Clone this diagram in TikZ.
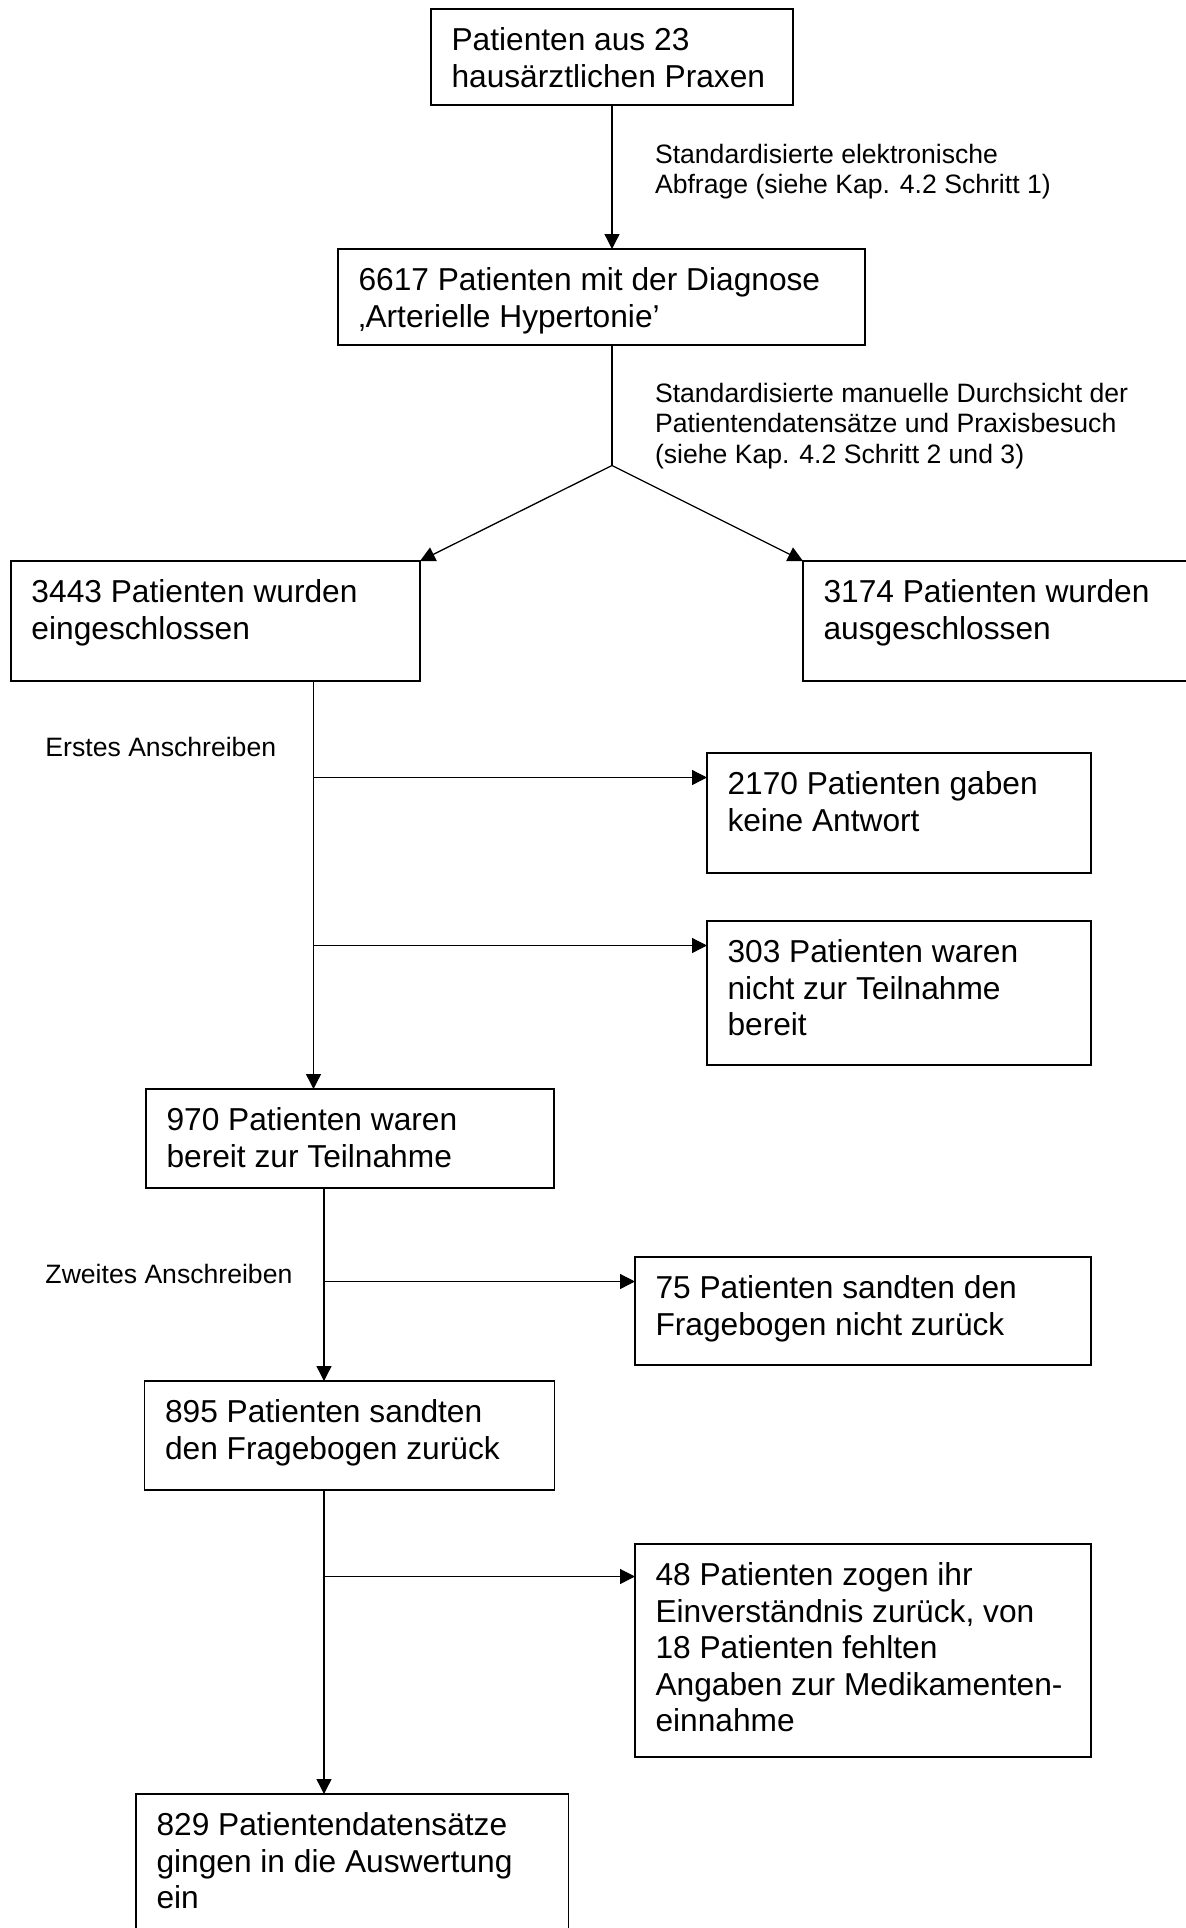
\documentclass[tikz,border=0pt]{standalone}
\usepackage{fontspec}
\setmainfont{Liberation Sans}
\usetikzlibrary{arrows.meta}
\newcommand{\tlines}[2][18.3pt]{\vtop{\let\\\cr\baselineskip=#1\lineskip=0pt\lineskiplimit=-20pt\halign{##\hfil\cr#2\crcr}}}
\begin{document}
\begin{tikzpicture}[x=0.5pt,y=-0.5pt,
  box/.style={draw, line width=0.75pt, anchor=north west, inner sep=0pt, outer sep=0pt},
  txt/.style={anchor=base west, inner sep=0pt, outer sep=0pt, font=\fontsize{15.85pt}{18.3pt}\selectfont},
  lab/.style={anchor=base west, inner sep=0pt, outer sep=0pt, font=\fontsize{13.3pt}{15.25pt}\selectfont},
  ln/.style={line width=0.65pt},
  arr/.style={line width=0.65pt, -{Triangle[length=7.5pt,width=7.5pt]}}]
\useasboundingbox (0,0) rectangle (1186,1928);
\fill[white] (0,0) rectangle (1186,1928);
\clip (0,0) rectangle (1186,1928);
% boxes
\node[box, minimum width=181pt, minimum height=48pt] (b1) at (431,9) {};
\node[box, minimum width=263.5pt, minimum height=48pt] (b2) at (338,249) {};
\node[box, minimum width=204.5pt, minimum height=60pt] (b3) at (11,561) {};
\node[box, minimum width=200pt, minimum height=60pt] (b4) at (803,561) {};
\node[box, minimum width=192pt, minimum height=60pt] (b5) at (707,753) {};
\node[box, minimum width=192pt, minimum height=72pt] (b6) at (707,921) {};
\node[box, minimum width=204pt, minimum height=49.5pt] (b7) at (146,1089) {};
\node[box, minimum width=228pt, minimum height=54pt] (b8) at (635,1257) {};
\node[box, minimum width=205pt, minimum height=54.5pt] (b9) at (144.5,1381) {};
\node[box, minimum width=228pt, minimum height=106.5pt] (b10) at (635,1544) {};
\node[box, minimum width=216.25pt, minimum height=80pt] (b11) at (136,1794) {};
% box texts
\node[txt] (t1) at (451.5,50.5) {\tlines{Patienten aus 23\\hausärztlichen Praxen}};
\node[txt] (t2) at (358.5,290.5) {\tlines{6617 Patienten mit der Diagnose\\‚Arterielle Hypertonie’}};
\node[txt] (t3) at (31.5,602.5) {\tlines{3443 Patienten wurden\\eingeschlossen}};
\node[txt] (t4) at (823.5,602.5) {\tlines{3174 Patienten wurden\\ausgeschlossen}};
\node[txt] (t5) at (727.5,794.5) {\tlines{2170 Patienten gaben\\keine Antwort}};
\node[txt] (t6) at (727.5,962.5) {\tlines{303 Patienten waren\\nicht zur Teilnahme\\bereit}};
\node[txt] (t7) at (166.5,1130.5) {\tlines{970 Patienten waren\\bereit zur Teilnahme}};
\node[txt] (t8) at (655.5,1298.5) {\tlines{75 Patienten sandten den\\Fragebogen nicht zurück}};
\node[txt] (t9) at (165,1422.5) {\tlines{895 Patienten sandten\\den Fragebogen zurück}};
\node[txt] (t10) at (655.5,1585.5) {\tlines{48 Patienten zogen ihr\\Einverständnis zurück, von\\18 Patienten fehlten\\Angaben zur Medikamenten-\\einnahme}};
\node[txt] (t11) at (156.5,1835.5) {\tlines{829 Patientendatensätze\\gingen in die Auswertung\\ein}};
% labels
\node[lab] (l1) at (655,163) {\tlines[15.25pt]{Standardisierte elektronische\\Abfrage (siehe Kap. 4.2 Schritt 1)}};
\node[lab] (l2) at (655,402) {\tlines[15.25pt]{Standardisierte manuelle Durchsicht der\\Patientendatensätze und Praxisbesuch\\(siehe Kap. 4.2 Schritt 2 und 3)}};
\node[lab] (l3) at (45.5,756) {Erstes Anschreiben};
\node[lab] (l4) at (45.5,1283) {Zweites Anschreiben};
% connectors
\coordinate (s1) at (612,465.5);
\draw[arr] (b1.south -| s1) -- (b2.north -| s1);
\draw[ln] (b2.south -| s1) -- (s1);
\draw[arr] (s1) -- (b3.north east);
\draw[arr] (s1) -- (b4.north west);
\coordinate (v1) at (313.5,0);
\draw[arr] (b3.south -| v1) -- (b7.north -| v1);
\coordinate (j1) at (313.5,777.5);
\coordinate (j2) at (313.5,945.5);
\draw[arr] (j1) -- (b5.west |- j1);
\draw[arr] (j2) -- (b6.west |- j2);
\coordinate (v2) at (324,0);
\draw[arr] (b7.south -| v2) -- (b9.north -| v2);
\coordinate (j3) at (324,1281.5);
\draw[arr] (j3) -- (b8.west |- j3);
\draw[arr] (b9.south -| v2) -- (b11.north -| v2);
\coordinate (j4) at (324,1576.5);
\draw[arr] (j4) -- (b10.west |- j4);
\end{tikzpicture}
\end{document}
